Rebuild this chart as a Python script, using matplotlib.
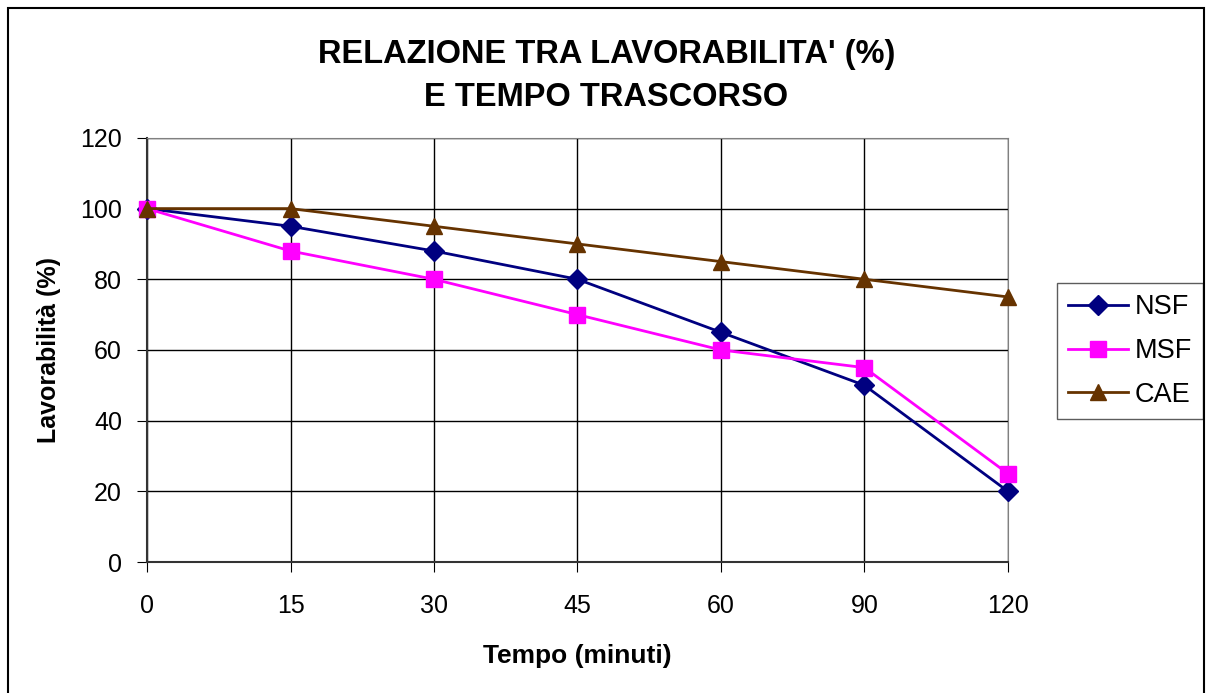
import matplotlib
matplotlib.use("Agg")
from matplotlib import pyplot as plt
from matplotlib import patches as mpatches

plt.rcParams['font.family'] = ['Liberation Sans', 'DejaVu Sans']

# data
tempo = ['0', '15', '30', '45', '60', '90', '120']
nsf = [100, 95, 88, 80, 65, 50, 20]
msf = [100, 88, 80, 70, 60, 55, 25]
cae = [100, 100, 95, 90, 85, 80, 75]

fig = plt.figure(figsize=(12.08, 6.93), dpi=100)
ax = fig.add_axes([0.1217, 0.189, 0.7127, 0.612])

x = list(range(len(tempo)))
ax.plot(x, nsf, '-', color='#000080', lw=2, marker='D', ms=10, label='NSF', clip_on=False, zorder=3)
ax.plot(x, msf, '-', color='#ff00ff', lw=2, marker='s', ms=11, label='MSF', clip_on=False, zorder=3)
ax.plot(x, cae, '-', color='#663300', lw=2, marker='^', ms=11, label='CAE', clip_on=False, zorder=4)

ax.set_xlim(0, len(tempo) - 1)
ax.set_ylim(0, 120)
ax.set_xticks(x)
ax.set_xticklabels(tempo)
ax.set_yticks(range(0, 121, 20))
ax.grid(True, color='black', lw=1)
ax.set_axisbelow(True)
for s in ['top', 'right']:
    ax.spines[s].set_color('#808080')
for s in ['left', 'bottom']:
    ax.spines[s].set_color('#333333')
    ax.spines[s].set_linewidth(1.5)
ax.tick_params(labelsize=18, length=7)
ax.tick_params(axis='y', pad=11)
ax.tick_params(axis='x', pad=16)

ax.set_xlabel('Tempo (minuti)', fontsize=19, fontweight='bold', labelpad=19)
ax.set_ylabel('Lavorabilità (%)', fontsize=18, fontweight='bold', labelpad=14)

fig.text(0.502, 0.922, "RELAZIONE TRA LAVORABILITA' (%)", ha='center', va='center',
         fontsize=23.5, fontweight='bold')
fig.text(0.502, 0.859, "E TEMPO TRASCORSO", ha='center', va='center',
         fontsize=23.5, fontweight='bold')

leg = ax.legend(loc='upper left', bbox_to_anchor=(1057 / 1208, 1 - 283 / 693),
                bbox_transform=fig.transFigure, borderaxespad=0, fontsize=19.5,
                frameon=True, fancybox=False, edgecolor='#333333',
                borderpad=0.42, labelspacing=0.65, handlelength=2.2, handletextpad=0.25)
leg.get_frame().set_linewidth(1)

fig.patches.append(mpatches.Rectangle((8 / 1208, -0.05), 1196 / 1208, 1.05 - 8 / 693,
                                      transform=fig.transFigure, fill=False,
                                      edgecolor='black', lw=1.5))

fig.savefig('out.png', dpi=100)
